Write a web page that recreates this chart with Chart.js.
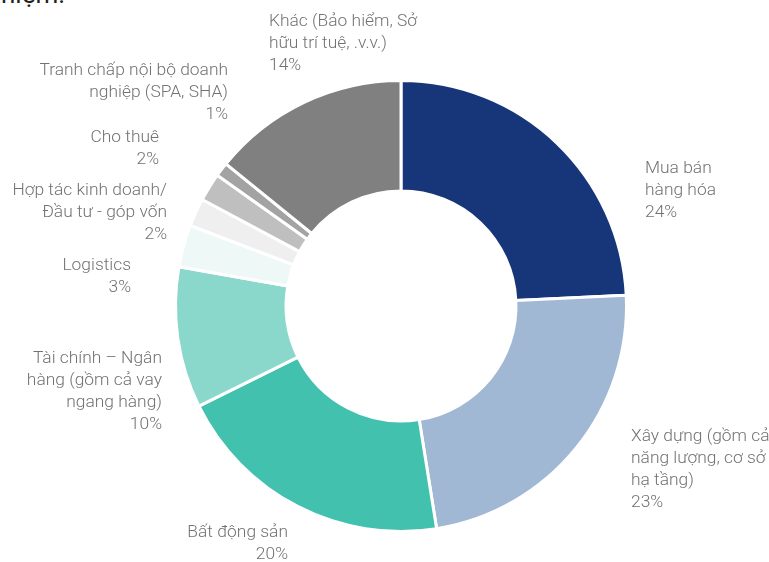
<!DOCTYPE html>
<html lang="vi">
<head>
<meta charset="utf-8">
<script src="https://cdn.jsdelivr.net/npm/chart.js@4.4.1/dist/chart.umd.min.js"></script>
<style>
    html, body { margin: 0; padding: 0; background: #fff; }
    #wrap { position: relative; width: 769px; height: 562px; overflow: hidden; }
    #heading {
        position: absolute; left: 1px; top: -21px;
        font: 400 26px 'Roboto', sans-serif; color: #222;
    }
    canvas { position: absolute; left: 0; top: 0; }
</style>
</head>
<body>
<div id="wrap">
    <div id="heading">niệm.</div>
    <canvas id="donut" width="769" height="562"></canvas>
</div>
<script>
// Catégories (une ligne par élément du tableau interne)
const categories = [
    ['Mua bán', 'hàng hóa'],
    ['Xây dựng (gồm cả', 'năng lượng, cơ sở', 'hạ tầng)'],
    ['Bất động sản'],
    ['Tài chính – Ngân', 'hàng (gồm cả vay', 'ngang hàng)'],
    ['Logistics'],
    ['Hợp tác kinh doanh/', 'Đầu tư - góp vốn'],
    ['Cho thuê'],
    ['Tranh chấp nội bộ doanh', 'nghiệp (SPA, SHA)'],
    ['Khác (Bảo hiểm, Sở', 'hữu trí tuệ, .v.v.)']
];

// Parts en %
const shares = [24, 23, 20, 10, 3, 2, 2, 1, 14];

const sliceColors = ['#173679', '#a0b8d4', '#41c1ae', '#8ad8cc', '#eef8f6', '#efefef', '#bfbfbf', '#a3a3a3', '#808080'];

// Position des étiquettes, relative au centre : [x, ligne de base, alignement]
const labelLayout = [
    [244, -133.5, 'left'],
    [230, 134.5, 'left'],
    [-113, 230.5, 'right'],
    [-239, 56.5, 'right'],
    [-270, -36.5, 'right'],
    [-234, -111.5, 'right'],
    [-242, -164.5, 'right'],
    [-173, -231.5, 'right'],
    [-132, -280.5, 'left']
];

const outsideLabels = {
    id: 'outsideLabels',
    afterDatasetsDraw(chart) {
        const c = chart.ctx;
        const meta = chart.getDatasetMeta(0);
        c.save();
        c.fillStyle = '#727272';
        c.font = "300 17.4px 'Roboto', sans-serif";
        c.textBaseline = 'alphabetic';
        meta.data.forEach((arc, i) => {
            const [dx, dy, align] = labelLayout[i];
            const lines = categories[i].concat([chart.data.datasets[0].data[i] + '%']);
            c.textAlign = align;
            lines.forEach((line, k) => {
                c.fillText(line, arc.x + dx, arc.y + dy + k * 22);
            });
        });
        c.restore();
    }
};

const ctx = document.getElementById('donut').getContext('2d');
new Chart(ctx, {
    type: 'doughnut',
    data: {
        labels: categories.map(l => l.join(' ')),
        datasets: [{
            data: shares,
            backgroundColor: sliceColors,
            borderColor: '#ffffff',
            borderWidth: 3
        }]
    },
    options: {
        responsive: false,
        animation: false,
        events: [],
        cutout: '51%',
        layout: {
            padding: { left: 174, right: 141, top: 77, bottom: 27 }
        },
        plugins: {
            legend: { display: false },
            tooltip: { enabled: false }
        }
    },
    plugins: [outsideLabels]
});
</script>
</body>
</html>
